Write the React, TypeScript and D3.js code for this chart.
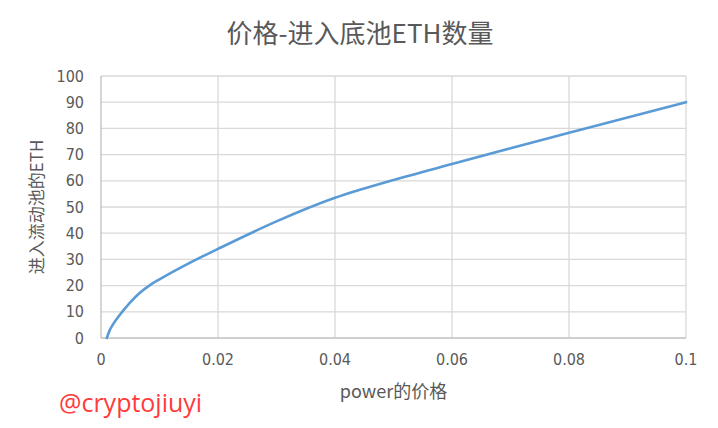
import React, { useEffect, useRef } from 'react'
import * as d3 from 'd3'

// price of power vs ETH entering the pool
const prices = [0.001, 0.0015, 0.002, 0.003, 0.004, 0.005, 0.0065, 0.0085, 0.01, 0.015, 0.02, 0.03, 0.04, 0.05, 0.06, 0.07, 0.08, 0.09, 0.1]
const ethValues = [0, 3, 5, 8.2, 11, 13.6, 17, 20.4, 22.4, 28.5, 34, 44.5, 53.5, 60.3, 66.4, 72.4, 78.3, 84.2, 90]
const xTicks = [0, 0.02, 0.04, 0.06, 0.08, 0.1]
const yTicks = [0, 10, 20, 30, 40, 50, 60, 70, 80, 90, 100]

const title = '价格-进入底池ETH数量'
const xLabel = 'power的价格'
const yLabel = '进入流动池的ETH'
const watermark = '@cryptojiuyi'

const W = 718
const H = 428
const tickFont = '"Liberation Sans Narrow", "DejaVu Sans Condensed", "Noto Sans", sans-serif'
const cjkFont = '"Noto Sans CJK SC", "Noto Sans", sans-serif'

export default function App() {
  const svgRef = useRef<SVGSVGElement>(null)

  useEffect(() => {
    if (!svgRef.current) return
    const svg = d3.select(svgRef.current)
    svg.selectAll('*').remove()

    const margin = { top: 76, right: 32, bottom: 90, left: 101 }
    const width = W - margin.left - margin.right
    const height = H - margin.top - margin.bottom

    const g = svg.append('g').attr('transform', `translate(${margin.left},${margin.top})`)

    const x = d3.scaleLinear().domain([0, 0.1]).range([0, width])
    const y = d3.scaleLinear().domain([0, 100]).range([height, 0])

    // grid
    g.selectAll('.gx')
      .data(xTicks.slice(1))
      .enter()
      .append('line')
      .attr('x1', d => x(d))
      .attr('x2', d => x(d))
      .attr('y1', 0)
      .attr('y2', height)
      .attr('stroke', '#d9d9d9')
      .attr('stroke-width', 1.3)

    g.selectAll('.gy')
      .data(yTicks.slice(1))
      .enter()
      .append('line')
      .attr('x1', 0)
      .attr('x2', width)
      .attr('y1', d => y(d))
      .attr('y2', d => y(d))
      .attr('stroke', '#d9d9d9')
      .attr('stroke-width', 1.3)

    // axis lines
    g.append('line')
      .attr('x1', 0).attr('x2', width)
      .attr('y1', height).attr('y2', height)
      .attr('stroke', '#bfbfbf').attr('stroke-width', 1.3)
    g.append('line')
      .attr('x1', 0).attr('x2', 0)
      .attr('y1', 0).attr('y2', height)
      .attr('stroke', '#bfbfbf').attr('stroke-width', 1.3)

    // tick labels
    g.selectAll('.xt')
      .data(xTicks)
      .enter()
      .append('text')
      .attr('x', d => x(d))
      .attr('y', height + 27)
      .attr('text-anchor', 'middle')
      .attr('fill', '#595959')
      .style('font-family', tickFont)
      .style('font-size', '16px')
      .text(d => String(d))

    g.selectAll('.yt')
      .data(yTicks)
      .enter()
      .append('text')
      .attr('x', -17)
      .attr('y', d => y(d))
      .attr('dy', '0.35em')
      .attr('text-anchor', 'end')
      .attr('fill', '#595959')
      .style('font-family', tickFont)
      .style('font-size', '16px')
      .text(d => String(d))

    // line
    const line = d3.line<number>()
      .x((_, i) => x(prices[i]))
      .y(d => y(d))
      .curve(d3.curveMonotoneX)

    g.append('path')
      .datum(ethValues)
      .attr('fill', 'none')
      .attr('stroke', '#5b9bd5')
      .attr('stroke-width', 2.6)
      .attr('stroke-linecap', 'round')
      .attr('d', line)

    // titles
    svg.append('text')
      .attr('x', 360)
      .attr('y', 43)
      .attr('text-anchor', 'middle')
      .attr('fill', '#595959')
      .style('font-family', cjkFont)
      .style('font-size', '26px')
      .text(title)

    svg.append('text')
      .attr('x', margin.left + width / 2)
      .attr('y', 398)
      .attr('text-anchor', 'middle')
      .attr('fill', '#595959')
      .style('font-family', cjkFont)
      .style('font-size', '18px')
      .text(xLabel)

    svg.append('text')
      .attr('transform', `translate(43, ${margin.top + height / 2}) rotate(-90)`)
      .attr('text-anchor', 'middle')
      .attr('fill', '#595959')
      .style('font-family', cjkFont)
      .style('font-size', '17px')
      .text(yLabel)

    svg.append('text')
      .attr('x', 59)
      .attr('y', 412)
      .attr('fill', '#ff3b3b')
      .style('font-family', '"Open Sans", "Noto Sans", sans-serif')
      .style('font-size', '25px')
      .text(watermark)
  }, [])

  return (
    <svg
      ref={svgRef}
      width={W}
      height={H}
      style={{ position: 'absolute', left: 0, top: 0, background: '#fff' }}
    />
  )
}
